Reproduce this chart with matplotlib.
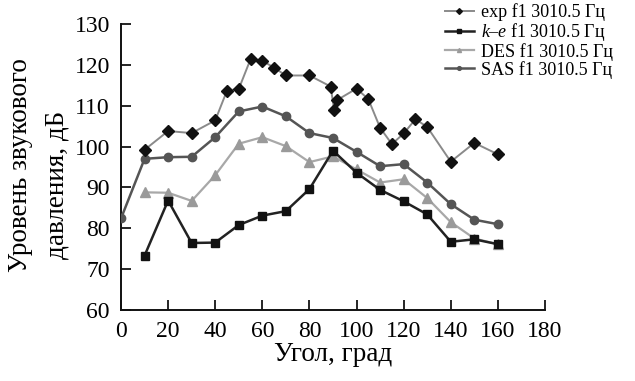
import matplotlib
matplotlib.use("Agg")
import matplotlib.pyplot as plt

plt.rcParams['font.family'] = ['Liberation Serif', 'DejaVu Serif']
plt.rcParams['mathtext.fontset'] = 'custom'
plt.rcParams['mathtext.rm'] = 'Liberation Serif'
plt.rcParams['mathtext.it'] = 'Liberation Serif:italic'

# Data
exp_x = [10, 20, 30, 40, 45, 50, 55, 60, 65, 70, 80, 89, 90.5, 91.5, 100, 105, 110, 115, 120, 125, 130, 140, 150, 160]
exp_y = [99.2, 103.8, 103.3, 106.4, 113.7, 114.1, 121.4, 121.0, 119.3, 117.4, 117.4, 114.7, 109.0, 111.3, 114.2, 111.6, 104.6, 100.6, 103.2, 106.7, 104.8, 96.3, 100.9, 98.1]

ke_x = [10, 20, 30, 40, 50, 60, 70, 80, 90, 100, 110, 120, 130, 140, 150, 160]
ke_y = [73.3, 86.8, 76.4, 76.5, 80.8, 83.1, 84.2, 89.6, 99.0, 93.6, 89.4, 86.6, 83.4, 76.7, 77.3, 76.1]

des_x = [10, 20, 30, 40, 50, 60, 70, 80, 90, 100, 110, 120, 130, 140, 150, 160]
des_y = [88.8, 88.7, 86.7, 93.0, 100.7, 102.3, 100.1, 96.2, 97.6, 94.4, 91.2, 92.0, 87.4, 81.5, 77.5, 76.1]

sas_x = [0, 10, 20, 30, 40, 50, 60, 70, 80, 90, 100, 110, 120, 130, 140, 150, 160]
sas_y = [82.4, 97.0, 97.4, 97.5, 102.3, 108.6, 109.8, 107.4, 103.3, 102.1, 98.7, 95.2, 95.7, 91.2, 85.9, 82.1, 81.0]

labels = ["exp f1 3010.5 Гц", "$k$–$e$ f1 3010.5 Гц", "DES f1 3010.5 Гц", "SAS f1 3010.5 Гц"]
xticks = list(range(0, 181, 20))
yticks = list(range(60, 131, 10))
ylabel_lines = ["Уровень звукового", "давления, дБ"]
xlabel = "Угол, град"

W, H = 635, 381
fig = plt.figure(figsize=(6.35, 3.81), dpi=100)
ax = fig.add_axes([121 / W, 1 - 310 / H, (545 - 121) / W, (310 - 24) / H])

l_exp, = ax.plot(exp_x, exp_y, color='#8a8a8a', lw=1.4, marker='D', ms=6.5,
                 mfc='#111111', mec='#111111', zorder=5)
l_ke, = ax.plot(ke_x, ke_y, color='#222222', lw=1.8, marker='s', ms=6,
                mfc='#111111', mec='#111111', zorder=4)
l_des, = ax.plot(des_x, des_y, color='#a8a8a8', lw=1.6, marker='^', ms=6.5,
                 mfc='#9a9a9a', mec='#9a9a9a', zorder=3)
l_sas, = ax.plot(sas_x, sas_y, color='#555555', lw=1.8, marker='o', ms=6,
                 mfc='#555555', mec='#555555', zorder=3)

ax.set_xlim(0, 180)
ax.set_ylim(60, 130)
ax.set_xticks(xticks)
ax.set_yticks(yticks)
ax.tick_params(direction='in', length=7, width=1.2, labelsize=17)
ax.tick_params(axis='x', pad=8)
ax.tick_params(axis='y', pad=8)
for s in ['top', 'right']:
    ax.spines[s].set_visible(False)
for s in ['left', 'bottom']:
    ax.spines[s].set_linewidth(1.4)
    ax.spines[s].set_color('#111111')

fig.text(333 / W, 1 - 361 / H, xlabel, fontsize=19.5, ha='center', va='baseline')
fig.text(21 / W, 1 - 165 / H, ylabel_lines[0], fontsize=19.5, rotation=90,
         ha='center', va='center')
fig.text(57 / W, 1 - 185 / H, ylabel_lines[1], fontsize=19.5, rotation=90,
         ha='center', va='center')

leg = fig.legend([l_exp, l_ke, l_des, l_sas], labels, loc='upper left',
                 bbox_to_anchor=(445 / W, 1 - 3 / H), frameon=False, fontsize=13,
                 markerscale=0.45, handlelength=1.6, handletextpad=0.4,
                 labelspacing=0.0, borderaxespad=0, borderpad=0)

fig.savefig("out.png", dpi=100)
